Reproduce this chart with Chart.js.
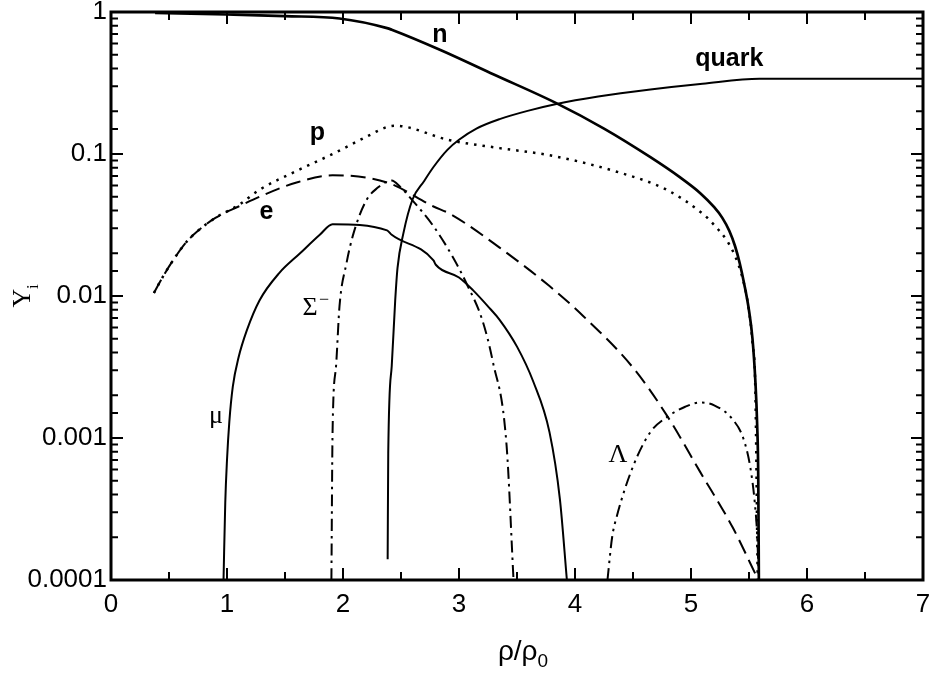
<!DOCTYPE html>
<html>
<head>
<meta charset="utf-8">
<script src="https://cdn.jsdelivr.net/npm/chart.js@4.4.1/dist/chart.umd.min.js"></script>
<style>
  html, body { margin: 0; padding: 0; background: #fff; }
  #wrap { width: 933px; height: 681px; }
</style>
</head>
<body>
<div id="wrap"><canvas id="chart" width="933" height="681"></canvas></div>
<script>
// ---------- tick labels ----------
const xTickLabels = ["0", "1", "2", "3", "4", "5", "6", "7"];
const yTickValues = [0.0001, 0.001, 0.01, 0.1, 1];
const yTickLabels = ["0.0001", "0.001", "0.01", "0.1", "1"];

// ---------- particle fractions Y_i vs rho/rho0 ----------
const nX = [0.38, 1.0, 1.5, 1.97, 2.38, 2.42, 2.84, 3.3, 3.83, 4.25, 4.65, 4.9, 5.08, 5.2, 5.27, 5.33, 5.38, 5.42, 5.46, 5.5, 5.53, 5.555, 5.57, 5.58, 5.585];
const nY = [0.985, 0.96, 0.935, 0.90, 0.77, 0.75, 0.54, 0.363, 0.23, 0.151, 0.095, 0.069, 0.053, 0.0422, 0.0355, 0.0288, 0.0224, 0.017, 0.012, 0.0079, 0.005, 0.0025, 0.00126, 0.0005, 0.0001];

const pX = [0.37, 0.45, 0.55, 0.65, 0.75, 0.9, 1.1, 1.28, 1.6, 1.91, 2.2, 2.38, 2.45, 2.92, 3.35, 3.78, 4.36, 4.79, 5.10, 5.2, 5.31, 5.38, 5.44, 5.49, 5.53, 5.555, 5.575];
const pY = [0.0105, 0.0138, 0.0186, 0.024, 0.0288, 0.0355, 0.0437, 0.056, 0.076, 0.10, 0.132, 0.155, 0.158, 0.125, 0.11, 0.098, 0.075, 0.056, 0.038, 0.0316, 0.0245, 0.0191, 0.0138, 0.0089, 0.0047, 0.0021, 0.0001];

const eX = [0.37, 0.45, 0.55, 0.65, 0.75, 0.9, 1.1, 1.28, 1.6, 1.91, 2.38, 2.78, 2.92, 3.35, 3.78, 4.07, 4.5, 4.79, 5.08, 5.36, 5.58];
const eY = [0.0105, 0.0138, 0.0186, 0.024, 0.0288, 0.0355, 0.0427, 0.050, 0.063, 0.0708, 0.063, 0.0427, 0.038, 0.0219, 0.01175, 0.00724, 0.00313, 0.00145, 0.000575, 0.000234, 0.0001];

const muX = [0.97, 0.985, 1.0, 1.02, 1.05, 1.1, 1.17, 1.28, 1.45, 1.63, 1.8, 1.91, 2.38, 2.42, 2.78, 2.8, 3.0, 3.12, 3.27, 3.35, 3.5, 3.64, 3.78, 3.87, 3.93];
const muY = [0.0001, 0.00035, 0.0007, 0.0013, 0.0023, 0.0037, 0.0057, 0.0093, 0.0145, 0.020, 0.027, 0.032, 0.029, 0.027, 0.0178, 0.0166, 0.0135, 0.011, 0.0081, 0.0068, 0.0044, 0.0025, 0.0011, 0.00037, 0.0001];

const sigmaX = [1.90, 1.91, 1.94, 1.97, 2.03, 2.09, 2.20, 2.30, 2.38, 2.42, 2.49, 2.6, 2.78, 2.95, 3.07, 3.2, 3.29, 3.41, 3.47];
const sigmaY = [0.0001, 0.0011, 0.0032, 0.0085, 0.017, 0.0275, 0.047, 0.058, 0.064, 0.065, 0.059, 0.047, 0.031, 0.0186, 0.012, 0.0068, 0.0035, 0.00089, 0.0001];

const lambdaX = [4.28, 4.32, 4.36, 4.5, 4.65, 4.79, 4.95, 5.08, 5.2, 5.36, 5.45, 5.51, 5.55, 5.57, 5.585];
const lambdaY = [0.0001, 0.0002, 0.00028, 0.00063, 0.0011, 0.0014, 0.00166, 0.00178, 0.0017, 0.00135, 0.001, 0.00063, 0.00035, 0.00021, 0.0001];

const quarkX = [2.385, 2.39, 2.42, 2.45, 2.47, 2.52, 2.6, 2.7, 2.78, 2.9, 3.0, 3.15, 3.35, 3.6, 3.83, 4.2, 4.65, 5.1, 5.59, 7.0];
const quarkY = [0.00014, 0.00078, 0.0032, 0.0093, 0.0158, 0.0275, 0.048, 0.0646, 0.081, 0.107, 0.126, 0.151, 0.176, 0.202, 0.224, 0.254, 0.285, 0.313, 0.339, 0.339];

// ---------- curve labels (data coordinates) ----------
const curveLabels = [
  { text: "n",     x: 2.836, y: 0.69,    bold: true },
  { text: "quark", x: 5.33,  y: 0.467,   bold: true },
  { text: "p",     x: 1.78,  y: 0.14,    bold: true },
  { text: "e",     x: 1.34,  y: 0.039,   bold: true },
  { text: "μ",     x: 0.905, y: 0.00143, bold: false },
  { text: "Λ",     x: 4.37,  y: 0.00076, bold: false }
];

const SANS = "'Liberation Sans', Arial, sans-serif";
const SERIF = "'Liberation Serif', 'Times New Roman', serif";

function pts(xs, ys) {
  return xs.map((x, i) => ({ x: x, y: ys[i] }));
}

function line(label, xs, ys, width, dash) {
  return {
    label: label,
    data: pts(xs, ys),
    borderColor: "#000",
    borderWidth: width,
    borderDash: dash,
    borderCapStyle: "butt",
    pointRadius: 0,
    fill: false,
    tension: 0.4,
    cubicInterpolationMode: "monotone"
  };
}

function isDecade(v) {
  const l = Math.log10(v);
  return Math.abs(l - Math.round(l)) < 1e-9;
}

// ----------
// cadre + graduations vers l'intérieur
// ----------
const framePlugin = {
  id: "frame",
  afterDatasetsDraw(chart) {
    const { ctx, chartArea: a, scales } = chart;
    ctx.save();
    ctx.strokeStyle = "#000";
    ctx.lineWidth = 2;
    ctx.beginPath();
    scales.y.ticks.forEach(t => {
      const py = scales.y.getPixelForValue(t.value);
      const len = isDecade(t.value) ? 12 : 7;
      ctx.moveTo(a.left, py); ctx.lineTo(a.left + len, py);
      ctx.moveTo(a.right, py); ctx.lineTo(a.right - len, py);
    });
    scales.x.ticks.forEach(t => {
      const px = scales.x.getPixelForValue(t.value);
      const len = Number.isInteger(t.value) ? 12 : 8;
      ctx.moveTo(px, a.bottom); ctx.lineTo(px, a.bottom - len);
      ctx.moveTo(px, a.top); ctx.lineTo(px, a.top + len);
    });
    ctx.stroke();
    ctx.lineWidth = 3;
    ctx.strokeRect(a.left, a.top, a.right - a.left, a.bottom - a.top);
    ctx.restore();
  }
};

// ----------
// textes : étiquettes des courbes, titres des axes
// ----------
const textPlugin = {
  id: "texts",
  afterDraw(chart) {
    const { ctx, scales } = chart;
    ctx.save();
    ctx.fillStyle = "#000";
    ctx.textAlign = "center";
    ctx.textBaseline = "middle";
    curveLabels.forEach(l => {
      ctx.font = l.bold ? "bold 25px " + SANS : "26px " + SERIF;
      ctx.fillText(l.text, scales.x.getPixelForValue(l.x), scales.y.getPixelForValue(l.y));
    });

    // Sigma minus
    const sx = scales.x.getPixelForValue(1.716);
    const sy = scales.y.getPixelForValue(0.0082);
    ctx.font = "26px " + SERIF;
    ctx.fillText("Σ", sx, sy);
    ctx.font = "18px " + SERIF;
    ctx.fillText("−", sx + 14, sy - 8);

    // x title: rho/rho0
    ctx.textAlign = "left";
    ctx.textBaseline = "alphabetic";
    ctx.font = "28px " + SANS;
    const main = "ρ/ρ";
    const w = ctx.measureText(main).width;
    ctx.font = "19px " + SANS;
    const w0 = ctx.measureText("0").width;
    const x0 = 523 - (w + w0) / 2;
    ctx.font = "28px " + SANS;
    ctx.fillText(main, x0, 660);
    ctx.font = "19px " + SANS;
    ctx.fillText("0", x0 + w, 667);

    // y title: Y_i
    ctx.translate(30, 298);
    ctx.rotate(-Math.PI / 2);
    ctx.font = "26px " + SERIF;
    ctx.textAlign = "center";
    ctx.fillText("Y", 0, 0);
    ctx.font = "17px " + SERIF;
    ctx.textAlign = "left";
    ctx.fillText("i", 9, 8);
    ctx.restore();
  }
};

const chart = new Chart(document.getElementById("chart"), {
  type: "line",
  data: {
    datasets: [
      line("n", nX, nY, 2.7, []),
      line("p", pX, pY, 2.5, [2.5, 6]),
      line("e", eX, eY, 2, [15, 7]),
      line("mu", muX, muY, 2, []),
      line("Sigma-", sigmaX, sigmaY, 2, [12, 5, 2.5, 5]),
      line("Lambda", lambdaX, lambdaY, 2, [12, 5, 2.5, 5, 2.5, 5]),
      line("quark", quarkX, quarkY, 2, [])
    ]
  },
  options: {
    responsive: false,
    animation: false,
    devicePixelRatio: 1,
    layout: { padding: { left: 0, right: 10, top: 12, bottom: 0 } },
    plugins: {
      legend: { display: false },
      tooltip: { enabled: false }
    },
    scales: {
      x: {
        type: "linear",
        min: 0,
        max: 7,
        grid: { display: false, drawTicks: true, tickLength: 7 },
        border: { display: false },
        ticks: {
          stepSize: 0.5,
          autoSkip: false,
          maxRotation: 0,
          padding: 2,
          color: "#000",
          font: { family: SANS, size: 26 },
          callback: v => Number.isInteger(v) ? xTickLabels[v] : ""
        },
        afterFit: s => { s.height = 101; }
      },
      y: {
        type: "logarithmic",
        min: 0.0001,
        max: 1,
        grid: { display: false, drawTicks: true, tickLength: 2 },
        border: { display: false },
        ticks: {
          autoSkip: false,
          padding: 2,
          color: "#000",
          font: { family: SANS, size: 26, lineHeight: 0.6 },
          callback: v => {
            const i = yTickValues.findIndex(t => Math.abs(Math.log10(v / t)) < 1e-6);
            return i >= 0 ? yTickLabels[i] : "";
          }
        },
        afterFit: s => { s.width = 111; }
      }
    }
  },
  plugins: [framePlugin, textPlugin]
});
</script>
</body>
</html>
